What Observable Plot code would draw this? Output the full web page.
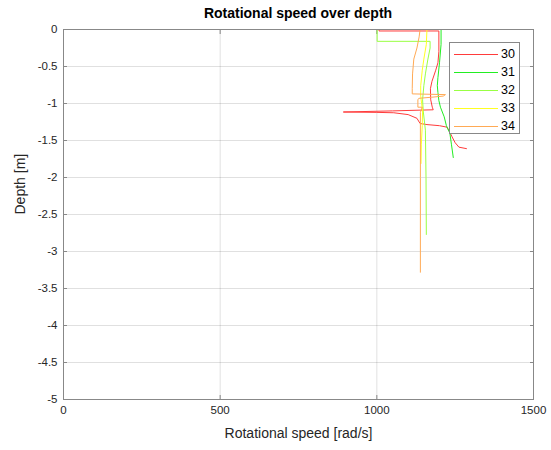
<!DOCTYPE html>
<html><head><meta charset="utf-8">
<script src="https://cdn.jsdelivr.net/npm/d3@7"></script>
<script src="https://cdn.jsdelivr.net/npm/@observablehq/plot@0.6"></script>
<style>
body{margin:0;background:#fff;font-family:"Liberation Sans",Arial,sans-serif;}
#wrap{position:relative;width:551px;height:450px;}
#title{position:absolute;z-index:2;left:63px;width:470px;top:5px;text-align:center;font-weight:bold;font-size:14px;color:#000;}
#legend{position:absolute;z-index:2;left:449px;top:42px;width:69px;height:90px;background:#fff;border:1.5px solid #888;font-size:12.5px;color:#000;}
.item{position:absolute;left:4px;height:14px;}
.item span.ln{position:absolute;left:0;top:7px;width:44px;height:0;border-top:1.5px solid;}
.item span.tx{position:absolute;left:47px;top:0px;}
svg text{font-family:"Liberation Sans",Arial,sans-serif;}
</style>
</head><body>
<div id="wrap"><div id="title">Rotational speed over depth</div></div>
<script>
const seriesNames = ["30","31","32","33","34"];
const seriesColors = ["#ff3b3b","#22ee22","#99ff44","#ffff22","#ffaa55"];

const speed30 = [1007,1007,1198,1198,1195,1188,1176,1171,1172,1177,1180,1050,893,1000,1054,1100,1128,1138,1160,1200,1224,1232,1240,1250,1262,1286];
const depth30 = [0,-0.02,-0.02,-0.30,-0.45,-0.55,-0.70,-0.80,-0.95,-1.05,-1.085,-1.10,-1.115,-1.12,-1.125,-1.15,-1.20,-1.27,-1.285,-1.30,-1.32,-1.38,-1.45,-1.53,-1.59,-1.61];

const speed31 = [1205,1205,1200,1195,1193,1195,1198,1203,1215,1222,1233,1238,1244];
const depth31 = [0,-0.20,-0.45,-0.65,-0.76,-0.85,-0.96,-1.05,-1.18,-1.30,-1.40,-1.55,-1.73];

const speed32 = [1001,1001,1170,1170,1163,1155,1150,1146,1148,1155,1157,1158];
const depth32 = [0,-0.16,-0.16,-0.25,-0.40,-0.60,-0.76,-0.95,-1.10,-1.36,-2.0,-2.77];

const speed33 = [1160,1158,1150,1145,1140,1140,1143,1146,1145,1142,1141];
const depth33 = [0,-0.20,-0.40,-0.55,-0.76,-0.90,-1.0,-1.10,-1.30,-1.55,-1.81];

const speed34 = [1138,1135,1128,1118,1114,1113,1113,1219,1212,1175,1134,1131,1131,1145,1139,1139,1139];
const depth34 = [0,-0.10,-0.25,-0.40,-0.60,-0.80,-0.87,-0.88,-0.90,-0.915,-0.93,-0.95,-1.05,-1.05,-1.12,-2.0,-3.28];

const xTicks = [0,500,1000,1500];
const yTicks = [0,-0.5,-1,-1.5,-2,-2.5,-3,-3.5,-4,-4.5,-5];

const speeds = [speed30,speed31,speed32,speed33,speed34];
const depths = [depth30,depth31,depth32,depth33,depth34];
const rows = [];
seriesNames.forEach((name,i)=>{
  speeds[i].forEach((s,j)=>rows.push({series:name, speed:s, depth:depths[i][j], order:j}));
});

const fmt = d => String(d);
const chart = Plot.plot({
  width:551, height:450,
  marginLeft:63, marginRight:18, marginTop:29, marginBottom:51,
  style:{fontSize:"11.5px", color:"#262626", background:"#fff"},
  x:{domain:[0,1500]},
  y:{domain:[-5,0]},
  color:{domain:seriesNames, range:seriesColors},
  marks:[
    Plot.gridX(xTicks,{stroke:"#000",strokeOpacity:0.12}),
    Plot.gridY(yTicks,{stroke:"#000",strokeOpacity:0.12}),
    Plot.axisX(xTicks,{anchor:"bottom",tickSize:0,tickPadding:6,tickFormat:fmt,label:null}),
    Plot.axisX(xTicks,{anchor:"bottom",tickSize:-4,tickFormat:()=>"",label:null,stroke:"#888"}),
    Plot.axisX(xTicks,{anchor:"top",tickSize:-4,tickFormat:()=>"",label:null,stroke:"#888"}),
    Plot.axisY(yTicks,{anchor:"left",tickSize:0,tickPadding:6,tickFormat:fmt,label:null}),
    Plot.axisY(yTicks,{anchor:"left",tickSize:-4,tickFormat:()=>"",label:null,stroke:"#888"}),
    Plot.axisY(yTicks,{anchor:"right",tickSize:-4,tickFormat:()=>"",label:null,stroke:"#888"}),
    Plot.text(["Rotational speed [rad/s]"],{frameAnchor:"bottom",dy:38,fontSize:14,fill:"#262626"}),
    Plot.text(["Depth [m]"],{frameAnchor:"left",dx:-43,rotate:-90,fontSize:14,fill:"#262626"}),
    Plot.line(rows,{x:"speed",y:"depth",z:"series",stroke:"series",strokeWidth:1,sort:null}),
    Plot.frame({stroke:"#888"})
  ]
});
document.getElementById("wrap").appendChild(chart);
chart.style.position="absolute"; chart.style.left="0"; chart.style.top="0"; chart.style.zIndex="1";

const leg = document.createElement("div");
leg.id="legend";
seriesNames.forEach((n,i)=>{
  const it=document.createElement("div");
  it.className="item"; it.style.top=(4+i*18)+"px"; it.style.width="64px";
  it.innerHTML=`<span class="ln" style="border-color:${seriesColors[i]}"></span><span class="tx">${n}</span>`;
  leg.appendChild(it);
});
document.getElementById("wrap").appendChild(leg);
</script>
</body></html>
